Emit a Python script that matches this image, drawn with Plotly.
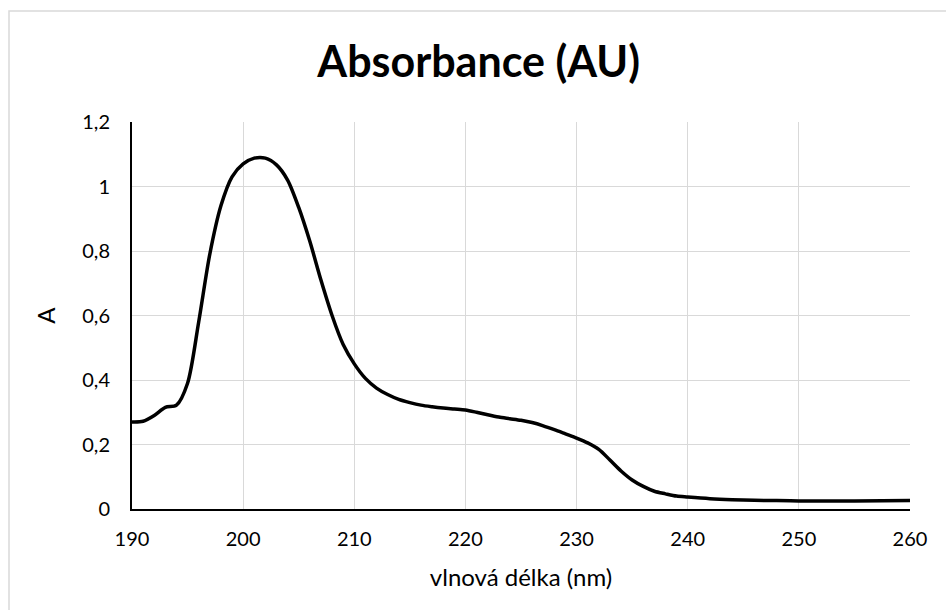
import plotly.graph_objects as go

# UV absorption spectrum
wavelength_nm = [190, 191, 192, 193, 194, 195, 196, 197, 198, 199, 200, 201, 202, 203,
                 204, 205, 206, 207, 208, 209, 210, 211, 212, 213, 214, 215, 216, 217,
                 218, 219, 220, 221, 222, 223, 224, 225, 226, 227, 228, 229, 230, 231,
                 232, 233, 234, 235, 236, 237, 238, 239, 240, 242, 244, 246, 248, 250,
                 255, 260]
absorbance = [0.270, 0.272, 0.290, 0.315, 0.322, 0.390, 0.580, 0.790, 0.940, 1.030,
              1.070, 1.088, 1.088, 1.067, 1.020, 0.935, 0.830, 0.710, 0.600, 0.510,
              0.450, 0.405, 0.375, 0.355, 0.340, 0.330, 0.322, 0.317, 0.313, 0.310,
              0.307, 0.300, 0.292, 0.285, 0.280, 0.275, 0.268, 0.258, 0.246, 0.233,
              0.220, 0.205, 0.185, 0.152, 0.118, 0.090, 0.070, 0.055, 0.047, 0.040,
              0.037, 0.032, 0.029, 0.027, 0.026, 0.025, 0.025, 0.026]

x_ticks = [190, 200, 210, 220, 230, 240, 250, 260]
y_ticks = [0, 0.2, 0.4, 0.6, 0.8, 1.0, 1.2]

FONT = "Lato, Open Sans, sans-serif"
GRID = "#d9d9d9"

fig = go.Figure(
    go.Scatter(
        x=wavelength_nm,
        y=absorbance,
        mode="lines",
        line=dict(color="black", width=3.5, shape="spline", smoothing=0.8),
        hoverinfo="x+y",
    )
)

fig.update_layout(
    width=946,
    height=610,
    margin=dict(l=132, r=36, t=122, b=101),
    paper_bgcolor="white",
    plot_bgcolor="white",
    separators=", ",
    showlegend=False,
    font=dict(family=FONT, color="#000000", size=20),
    title=dict(
        text="<b>Absorbance (AU)</b>",
        font=dict(family=FONT, size=43, color="#000000"),
        x=0.506, xanchor="center",
        y=0.898, yanchor="middle",
    ),
    shapes=[
        # outer chart frame
        dict(type="rect", xref="paper", yref="paper",
             x0=-0.1581, x1=1.06, y0=-0.30, y1=1.2868,
             line=dict(color=GRID, width=1.5), layer="below"),
    ],
)

fig.update_xaxes(
    range=[190, 260],
    tickvals=x_ticks,
    ticks="",
    showgrid=True, gridcolor=GRID, gridwidth=1,
    showline=True, linecolor="black", linewidth=2,
    zeroline=False,
    tickfont=dict(size=20),
    ticklabelstandoff=11,
    title=dict(text="vlnová délka (nm)", font=dict(size=24), standoff=20),
)
fig.update_yaxes(
    range=[0, 1.2],
    tickvals=y_ticks,
    ticks="",
    showgrid=True, gridcolor=GRID, gridwidth=1,
    showline=True, linecolor="black", linewidth=2,
    zeroline=False,
    tickfont=dict(size=20),
    ticklabelstandoff=16,
    title=dict(text="A", font=dict(size=24), standoff=20),
)

fig.write_html("out.html")
